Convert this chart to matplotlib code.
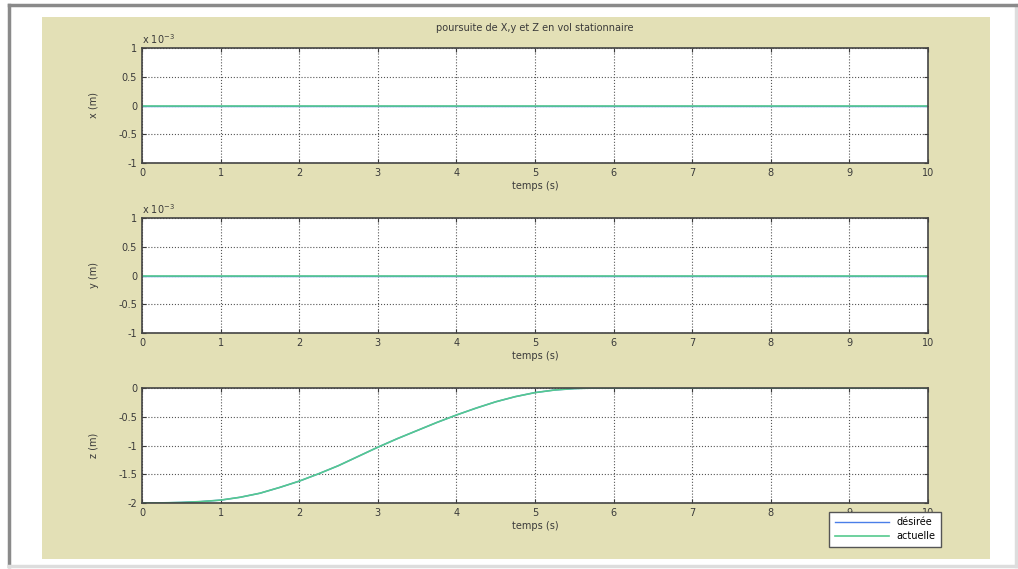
import matplotlib.pyplot as plt
import numpy as np

# data
t = [0, 0.25, 0.5, 0.75, 1, 1.25, 1.5, 1.75, 2, 2.25, 2.5, 2.75, 3, 3.25, 3.5, 3.75,
     4, 4.25, 4.5, 4.75, 5, 5.25, 5.5, 5.75, 6, 7, 8, 9, 10]
z = [-2.0, -1.998, -1.99, -1.975, -1.95, -1.9, -1.83, -1.73, -1.62, -1.49, -1.35, -1.19,
     -1.03, -0.88, -0.74, -0.6, -0.47, -0.35, -0.24, -0.15, -0.08, -0.035, -0.01, 0.0,
     0.0, 0.0, 0.0, 0.0, 0.0]
t_flat = [0, 10]
xy_flat = [0.0, 0.0]

ylabels = ['x (m)', 'y (m)', 'z (m)']
xlabel = 'temps (s)'
title = 'poursuite de X,y et Z en vol stationnaire'
legend_labels = ['désirée', 'actuelle']

W, H = 1018, 569
bg = '#e3e0b6'
blue = '#4a7ee8'
green = '#55c98e'
txt = '#3a3a3a'
fig = plt.figure(figsize=(W / 100, H / 100), dpi=100)
fig.patch.set_facecolor('white')

def px(x0, y0, x1, y1):
    return [x0 / W, 1 - y1 / H, (x1 - x0) / W, (y1 - y0) / H]

# screenshot frame and khaki panel
frame = fig.add_axes(px(9, 5, 1016, 566))
frame.set_xticks([]); frame.set_yticks([])
frame.set_facecolor('white')
for s in frame.spines.values():
    s.set_color('#8a8a8a'); s.set_linewidth(2.5)
frame.spines['right'].set_color('#dddddd')
frame.spines['bottom'].set_color('#dddddd')
panel = fig.add_axes(px(42, 17, 990, 559))
panel.set_xticks([]); panel.set_yticks([])
panel.set_facecolor(bg)
for s in panel.spines.values():
    s.set_visible(False)

boxes = [(142, 48, 928, 163), (142, 218, 928, 333), (142, 388, 928, 503)]
axes = []
for i, b in enumerate(boxes):
    ax = fig.add_axes(px(*b))
    ax.set_facecolor('white')
    ax.set_xlim(0, 10)
    ax.set_xticks(range(0, 11))
    ax.grid(True, color='#555555', linestyle=':', linewidth=0.8)
    ax.tick_params(labelsize=7, colors=txt, direction='in', length=3, top=True, right=True)
    for s in ax.spines.values():
        s.set_color('#444444'); s.set_linewidth(1.2)
    ax.set_xlabel(xlabel, fontsize=7, color=txt, labelpad=2)
    ax.set_ylabel(ylabels[i], fontsize=7, color=txt, labelpad=14)
    axes.append(ax)

for ax in axes[:2]:
    ax.plot(t_flat, np.array(xy_flat) * 1e-3, color=blue, linewidth=1)
    ax.plot(t_flat, np.array(xy_flat) * 1e-3, color=green, linewidth=1.2)
    ax.set_ylim(-1e-3, 1e-3)
    ax.set_yticks([-1e-3, -0.5e-3, 0, 0.5e-3, 1e-3])
    ax.set_yticklabels(['-1', '-0.5', '0', '0.5', '1'])
    ax.text(0.0, 1.02, r'x 10$^{-3}$', transform=ax.transAxes, fontsize=7, color=txt, va='bottom')

ax = axes[2]
l1, = ax.plot(t, z, color=blue, linewidth=1)
l2, = ax.plot(t, z, color=green, linewidth=1.2)
ax.set_ylim(-2, 0)
ax.set_yticks([-2, -1.5, -1, -0.5, 0])
ax.set_yticklabels(['-2', '-1.5', '-1', '-0.5', '0'])

axes[0].set_title(title, fontsize=7, color=txt, pad=12)

fig.legend([l1, l2], legend_labels, loc='lower right', bbox_to_anchor=(946 / W, 1 - 552 / H),
           fontsize=7, fancybox=False, edgecolor='#555555', framealpha=1, handlelength=5.5,
           borderpad=0.6, labelspacing=0.4)

fig.savefig('out.png', dpi=100, facecolor=fig.get_facecolor())
